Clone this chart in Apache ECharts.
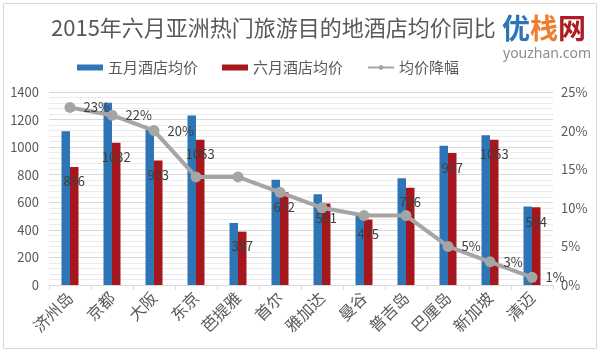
<!DOCTYPE html>
<html><head><meta charset="utf-8">
<script src="https://cdn.jsdelivr.net/npm/echarts@6/dist/echarts.min.js"></script>
<style>html,body{margin:0;padding:0;background:#fff}#c{width:600px;height:352px}</style>
</head><body><div id="c"></div>
<script>
const categories = ['济州岛','京都','大阪','东京','芭提雅','首尔','雅加达','曼谷','普吉岛','巴厘岛','新加坡','清迈'];
const mayPrice = [1115, 1322, 1128, 1230, 450, 763, 658, 520, 775, 1010, 1087, 569];
const junePrice = [856, 1032, 903, 1053, 387, 672, 591, 475, 706, 957, 1053, 564];
const dropPct = [23, 22, 20, 14, 14, 12, 10, 9, 9, 5, 3, 1];
const dropLabelShown = [true, true, true, false, false, false, false, false, false, true, true, true];
const leftTicks = [0, 200, 400, 600, 800, 1000, 1200, 1400];
const rightTicks = [0, 5, 10, 15, 20, 25];

const chart = echarts.init(document.getElementById('c'));
const font = '"Noto Sans CJK SC", "Noto Sans", sans-serif';
chart.setOption({
  animation: false,
  textStyle: { fontFamily: font },
  graphic: [
    { type: 'rect', shape: { x: 3.5, y: 3.5, width: 593, height: 345 }, style: { fill: 'none', stroke: '#d9d9d9', lineWidth: 1 } }
  ],
  title: [
    {
      text: '2015年六月亚洲热门旅游目的地酒店均价同比',
      left: 46, top: 12,
      textStyle: { fontSize: 22, fontWeight: 'normal', color: '#595959', fontFamily: font }
    },
    {
      text: '{a|优}{b|栈}{c|网}',
      left: 497, top: 9,
      textStyle: {
        rich: {
          a: { color: '#2e75b6', fontSize: 28, fontWeight: 'bold', fontFamily: 'Noto Sans CJK SC' },
          b: { color: '#ed7d31', fontSize: 28, fontWeight: 'bold', fontFamily: 'Noto Sans CJK SC' },
          c: { color: '#b01c23', fontSize: 28, fontWeight: 'bold', fontFamily: 'Noto Sans CJK SC' }
        }
      }
    },
    {
      text: 'youzhan.com',
      left: 498, top: 42,
      textStyle: { fontSize: 14, fontWeight: 'normal', color: '#8c8c8c', fontFamily: 'Noto Sans' }
    }
  ],
  legend: {
    left: 72, top: 55,
    itemGap: 24, itemWidth: 26, itemHeight: 6,
    textStyle: { fontSize: 15, color: '#595959' },
    data: [
      { name: '五月酒店均价', icon: 'rect' },
      { name: '六月酒店均价', icon: 'rect' },
      { name: '均价降幅' }
    ]
  },
  grid: { left: 49, right: 47, top: 92, bottom: 67 },
  xAxis: {
    type: 'category', data: categories,
    axisLine: { lineStyle: { color: '#d9d9d9' } },
    axisTick: { show: true, length: 5, lineStyle: { color: '#d9d9d9' } },
    axisLabel: { rotate: 45, fontSize: 16, color: '#595959', margin: 10, interval: 0 }
  },
  yAxis: [
    {
      type: 'value', min: leftTicks[0], max: leftTicks[leftTicks.length - 1], interval: 200,
      axisLine: { show: false }, axisTick: { show: false },
      axisLabel: { fontSize: 13, color: '#595959', margin: 10, formatter: v => String(v) },
      splitLine: { lineStyle: { color: '#d9d9d9', width: 1 } },
      minorTick: { show: false, splitNumber: 5 },
      minorSplitLine: { show: true, lineStyle: { color: '#ebebeb', width: 1 } }
    },
    {
      type: 'value', min: rightTicks[0], max: rightTicks[rightTicks.length - 1], interval: 5,
      axisLine: { show: false }, axisTick: { show: false },
      axisLabel: { fontSize: 13, color: '#595959', formatter: '{value}%', margin: 8 },
      splitLine: { show: false }
    }
  ],
  series: [
    {
      name: '五月酒店均价', type: 'bar', data: mayPrice,
      barWidth: 8.5, barGap: '0%',
      itemStyle: { color: '#2e75b6' }
    },
    {
      name: '六月酒店均价', type: 'bar', data: junePrice,
      barWidth: 8.5,
      itemStyle: { color: '#a5161d' },
      label: { show: true, position: 'insideTop', distance: 8, color: '#404040', fontSize: 13 },
      z: 3
    },
    {
      name: '均价降幅', type: 'line', yAxisIndex: 1,
      data: dropPct.map((v, i) => ({ value: v, label: { show: dropLabelShown[i] } })),
      symbol: 'circle', symbolSize: 11,
      lineStyle: { color: '#a5a5a5', width: 4 },
      itemStyle: { color: '#a5a5a5' },
      label: { position: 'right', distance: 8, formatter: '{c}%', color: '#404040', fontSize: 13 },
      z: 4
    }
  ]
});
</script></body></html>
